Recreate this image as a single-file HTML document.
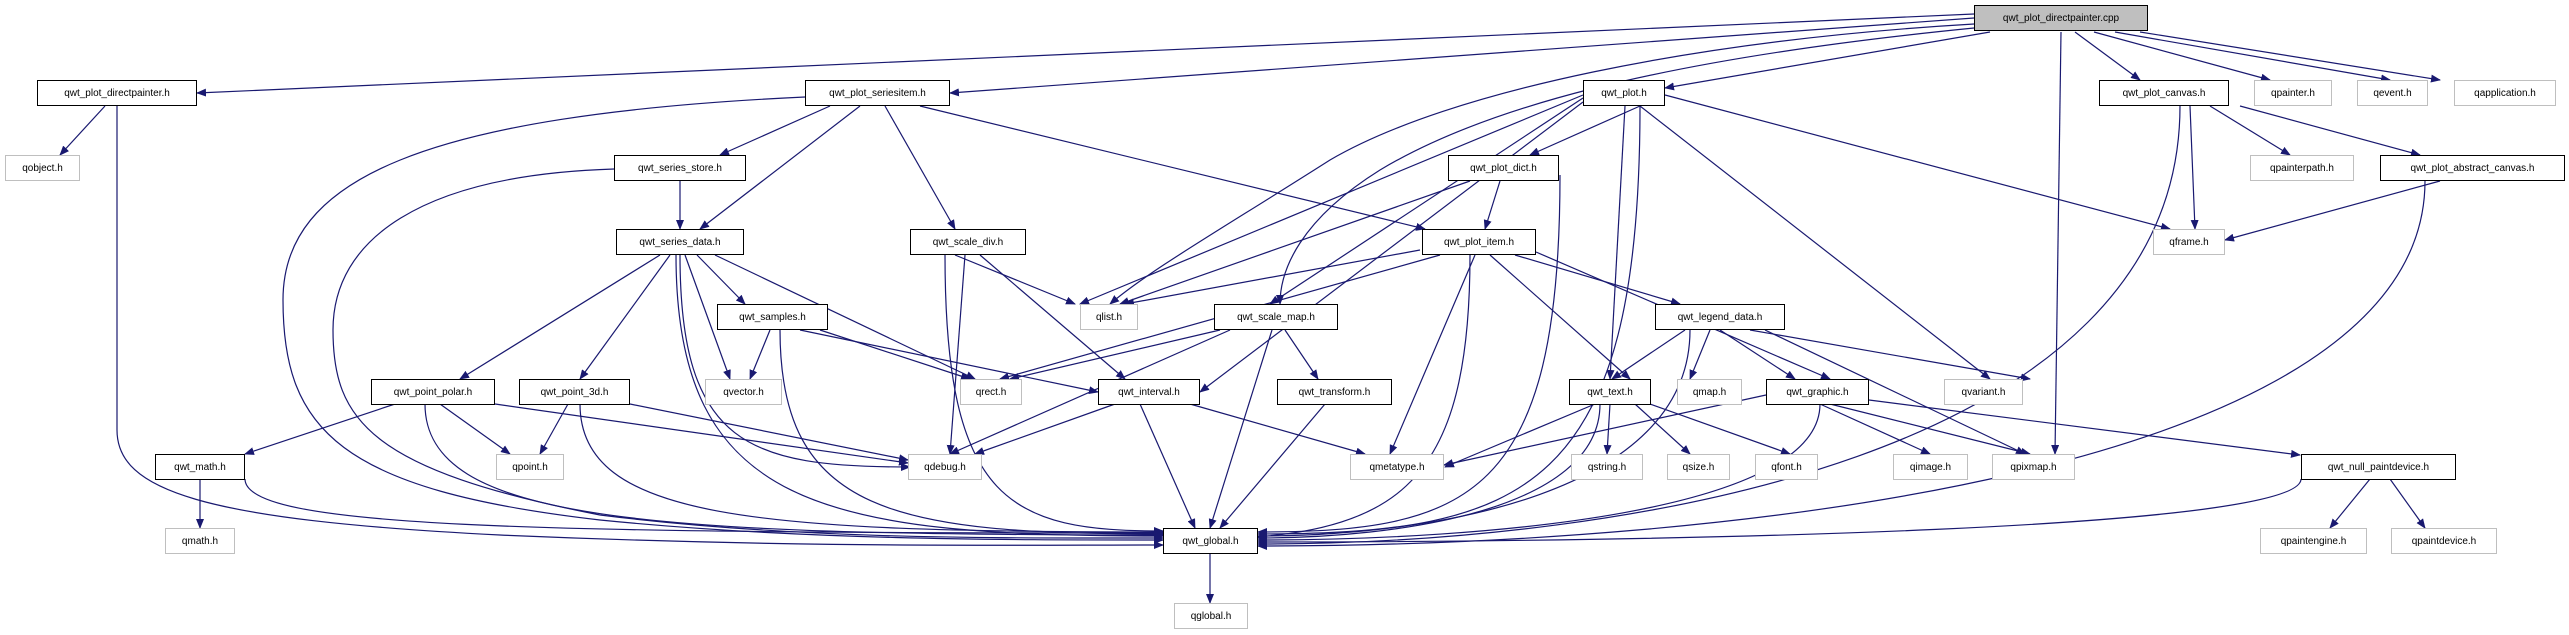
<!DOCTYPE html>
<html><head><meta charset="utf-8">
<style>
html,body{margin:0;padding:0;background:#fff;}
#c{position:relative;width:2569px;height:635px;overflow:hidden;}
.n{position:absolute;box-sizing:border-box;height:26px;border:1.5px solid #000;background:#fff;font:10px "Liberation Sans",sans-serif;color:#000;display:flex;align-items:center;justify-content:center;white-space:nowrap;}
.g{border:1.5px solid #bfbfbf;}
.r{background:#bfbfbf;border-color:#000;}
svg{position:absolute;left:0;top:0;}
</style></head><body>
<div id="c">
<svg id="s" width="2569" height="635">
<defs><marker id="a" markerWidth="10" markerHeight="8" refX="9" refY="4" orient="auto" markerUnits="userSpaceOnUse"><path d="M0,0 L10,4 L0,8 z" fill="#191970"/></marker></defs>
<g fill="none" stroke="#191970" stroke-width="1.2" marker-end="url(#a)">
<path d="M805,97 C420,115 283,180 283,300 C283,430 340,490 600,520 C800,540 1000,540 1163,540"/>
<path d="M614,169 C420,175 333,240 333,330 C333,420 370,470 600,515 C800,540 1000,538 1163,538"/>
<path d="M117,106 L117,430 C117,490 200,520 500,535 C800,548 1000,545 1163,545"/>
<path d="M1974,24 C1700,40 1450,90 1330,160 C1220,230 1150,270 1110,304"/>
<path d="M1974,28 C1650,60 1480,110 1380,170 C1300,220 1280,270 1280,304"/>
</g>
<g id="e" fill="none" stroke="#191970" stroke-width="1.2"></g>
</svg>
<div class="n r" style="left:1974px;top:5px;width:174px">qwt_plot_directpainter.cpp</div>
<div class="n" style="left:37px;top:80px;width:160px">qwt_plot_directpainter.h</div>
<div class="n" style="left:805px;top:80px;width:145px">qwt_plot_seriesitem.h</div>
<div class="n" style="left:1583px;top:80px;width:82px">qwt_plot.h</div>
<div class="n" style="left:2099px;top:80px;width:130px">qwt_plot_canvas.h</div>
<div class="n g" style="left:2254px;top:80px;width:78px">qpainter.h</div>
<div class="n g" style="left:2357px;top:80px;width:71px">qevent.h</div>
<div class="n g" style="left:2454px;top:80px;width:102px">qapplication.h</div>
<div class="n g" style="left:5px;top:155px;width:75px">qobject.h</div>
<div class="n" style="left:614px;top:155px;width:132px">qwt_series_store.h</div>
<div class="n" style="left:1448px;top:155px;width:111px">qwt_plot_dict.h</div>
<div class="n g" style="left:2250px;top:155px;width:104px">qpainterpath.h</div>
<div class="n" style="left:2380px;top:155px;width:185px">qwt_plot_abstract_canvas.h</div>
<div class="n" style="left:616px;top:229px;width:128px">qwt_series_data.h</div>
<div class="n" style="left:910px;top:229px;width:116px">qwt_scale_div.h</div>
<div class="n" style="left:1422px;top:229px;width:114px">qwt_plot_item.h</div>
<div class="n g" style="left:2153px;top:229px;width:72px">qframe.h</div>
<div class="n" style="left:717px;top:304px;width:111px">qwt_samples.h</div>
<div class="n g" style="left:1080px;top:304px;width:58px">qlist.h</div>
<div class="n" style="left:1214px;top:304px;width:124px">qwt_scale_map.h</div>
<div class="n" style="left:1655px;top:304px;width:130px">qwt_legend_data.h</div>
<div class="n" style="left:371px;top:379px;width:124px">qwt_point_polar.h</div>
<div class="n" style="left:519px;top:379px;width:111px">qwt_point_3d.h</div>
<div class="n g" style="left:705px;top:379px;width:77px">qvector.h</div>
<div class="n g" style="left:960px;top:379px;width:62px">qrect.h</div>
<div class="n" style="left:1098px;top:379px;width:102px">qwt_interval.h</div>
<div class="n" style="left:1277px;top:379px;width:115px">qwt_transform.h</div>
<div class="n" style="left:1569px;top:379px;width:82px">qwt_text.h</div>
<div class="n g" style="left:1677px;top:379px;width:65px">qmap.h</div>
<div class="n" style="left:1766px;top:379px;width:103px">qwt_graphic.h</div>
<div class="n g" style="left:1944px;top:379px;width:79px">qvariant.h</div>
<div class="n" style="left:155px;top:454px;width:90px">qwt_math.h</div>
<div class="n g" style="left:496px;top:454px;width:68px">qpoint.h</div>
<div class="n g" style="left:908px;top:454px;width:74px">qdebug.h</div>
<div class="n g" style="left:1350px;top:454px;width:94px">qmetatype.h</div>
<div class="n g" style="left:1571px;top:454px;width:72px">qstring.h</div>
<div class="n g" style="left:1667px;top:454px;width:63px">qsize.h</div>
<div class="n g" style="left:1755px;top:454px;width:63px">qfont.h</div>
<div class="n g" style="left:1893px;top:454px;width:75px">qimage.h</div>
<div class="n g" style="left:1992px;top:454px;width:83px">qpixmap.h</div>
<div class="n" style="left:2301px;top:454px;width:155px">qwt_null_paintdevice.h</div>
<div class="n g" style="left:165px;top:528px;width:70px">qmath.h</div>
<div class="n" style="left:1163px;top:528px;width:95px">qwt_global.h</div>
<div class="n g" style="left:2260px;top:528px;width:107px">qpaintengine.h</div>
<div class="n g" style="left:2391px;top:528px;width:106px">qpaintdevice.h</div>
<div class="n g" style="left:1174px;top:603px;width:74px">qglobal.h</div>
</div>
<script>
var E=[
[1974,14,197,93,'h'],[1974,18,950,93,'h'],[1990,32,1665,88,'h'],
[2075,32,2140,80],[2094,32,2270,80],[2115,32,2390,80],[2140,32,2440,80],[2061,32,2055,454,'h'],
[105,106,60,155],
[830,106,720,155],[860,106,700,229],[885,106,955,229],[920,106,1425,229],
[680,181,680,229],
[660,255,460,379],[670,255,580,379],[685,255,730,379],[697,255,745,304],[715,255,975,379],[676,255,1163,536,'s'],[680,255,910,467,'s'],
[770,330,750,379],[780,330,1163,534,'s'],[800,330,1098,392],[820,330,970,379],
[395,404,245,454],[440,404,510,454],[425,404,1163,535,'s'],[495,404,908,463],
[568,404,540,454],[580,404,1163,532,'s'],[630,404,908,460],
[200,479,200,528,'h'],[245,479,1163,533,'s'],
[955,255,1075,304],[965,255,950,454],[980,255,1125,379],[945,255,1163,531,'s'],
[1640,106,1530,155],[1583,95,1080,304],[1583,98,1270,304],[1583,102,1200,392],[1625,106,1610,379],[1640,106,1990,379],[1665,95,2170,229],[1640,106,1258,534,'s'],
[1470,181,1120,304],[1500,181,1485,229],[1560,175,1258,532,'s'],
[1420,250,1125,304],[1440,255,1000,379],[1490,255,1630,379],[1515,255,1680,304],[1536,252,1830,379],[1475,255,1390,454],[1470,255,1163,540,'s'],
[1220,330,1010,379],[1230,330,950,454],[1285,330,1318,379],[1272,330,1210,528],
[1115,404,975,454],[1140,404,1195,528],[1190,404,1365,454],[1325,404,1220,528],
[1685,330,1612,379],[1710,330,1690,379],[1720,330,1795,379],[1750,330,2030,379],[1765,330,2025,454],[1690,330,1258,536,'s3'],
[1595,404,1445,467],[1610,404,1607,454],[1635,404,1690,454],[1650,404,1790,454],[1600,404,1258,538,'s3'],
[1766,395,1444,465],[1820,404,1930,454],[1830,404,2030,454],[1869,400,2300,455],[1820,404,1258,540,'s3'],
[2370,479,2330,528],[2390,479,2425,528],[2301,479,1258,542,'s3'],
[2190,106,2195,229],[2210,106,2290,155],[2240,106,2420,155],[2180,106,1258,544,'s3'],
[2440,181,2225,240],[2425,181,1258,546,'s3'],
[1210,554,1210,603,'h']
];
var g=document.getElementById('e'),h='';
E.forEach(function(e){var sx=e[0],sy=e[1],tx=e[2],ty=e[3],t=e[4]||'',d;
if(t=='h'){d='M'+sx+','+sy+' L'+tx+','+ty;}
else if(t=='s'){d='M'+sx+','+sy+' C'+sx+','+(sy+(ty-sy)*0.9)+' '+(sx+(tx-sx)*0.3)+','+ty+' '+tx+','+ty;}
else if(t=='s3'){d='M'+sx+','+sy+' C'+sx+','+(sy+(ty-sy)*0.8)+' '+(tx+(sx-tx)*0.4)+','+ty+' '+tx+','+ty;}
else{d='M'+sx+','+sy+' L'+tx+','+ty;}
h+='<path d="'+d+'" marker-end="url(#a)"/>';});
g.innerHTML=h;
</script>
</body></html>
